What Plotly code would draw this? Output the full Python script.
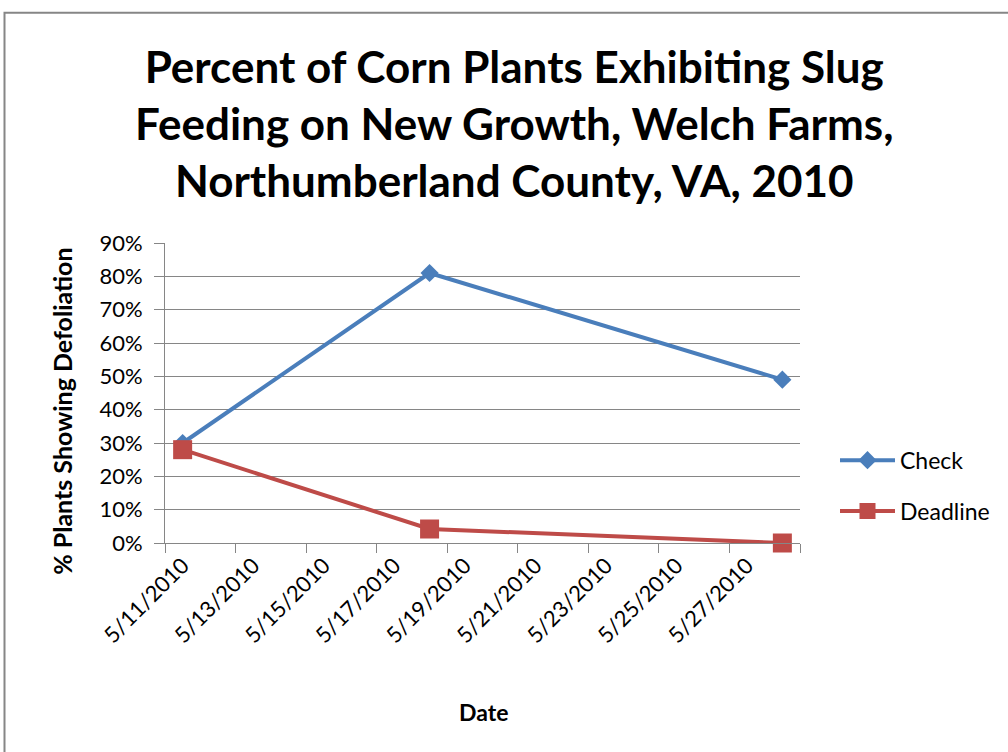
import plotly.graph_objects as go

dates = ["2010-05-11", "2010-05-18", "2010-05-28"]
check = [0.30, 0.81, 0.49]
deadline = [0.28, 0.042, 0.0]

label_dates = ["2010-05-11", "2010-05-13", "2010-05-15", "2010-05-17", "2010-05-19",
               "2010-05-21", "2010-05-23", "2010-05-25", "2010-05-27"]
label_text = ["5/11/2010", "5/13/2010", "5/15/2010", "5/17/2010", "5/19/2010",
              "5/21/2010", "5/23/2010", "5/25/2010", "5/27/2010"]
boundary_ticks = ["2010-05-10 12:00", "2010-05-12 12:00", "2010-05-14 12:00", "2010-05-16 12:00",
                  "2010-05-18 12:00", "2010-05-20 12:00", "2010-05-22 12:00", "2010-05-24 12:00",
                  "2010-05-26 12:00", "2010-05-28 12:00"]
y_ticks = [0, 0.1, 0.2, 0.3, 0.4, 0.5, 0.6, 0.7, 0.8, 0.9]

W, H = 1008, 752
L, R, T, B = 165, 800, 243, 543.3
FONT = "Lato"
GRAY = "#868686"

fig = go.Figure()
fig.add_trace(go.Scatter(x=dates, y=check, name="Check", mode="lines+markers",
                         line=dict(color="#4A7EBB", width=4),
                         marker=dict(symbol="diamond", size=14, color="#4A7EBB"),
                         legendgroup="a", cliponaxis=False))
fig.add_trace(go.Scatter(x=dates, y=deadline, name="Deadline", mode="lines+markers",
                         line=dict(color="#BE4B48", width=4),
                         marker=dict(symbol="square", size=19, color="#BE4B48"),
                         legendgroup="b", cliponaxis=False))

def px_x(p):
    return (p - L) / (R - L)

def px_y(p):
    return (B - p) / (B - T)

fig.update_layout(
    width=W, height=H,
    margin=dict(l=L, r=W - R, t=T, b=H - B, autoexpand=False),
    paper_bgcolor="white", plot_bgcolor="white",
    font=dict(family=FONT, color="#000000", size=22),
    showlegend=True,
    legend=dict(x=px_x(835), xanchor="left", y=px_y(486), yanchor="middle",
                font=dict(family=FONT, size=23), traceorder="grouped", tracegroupgap=18,
                itemwidth=55, bgcolor="rgba(0,0,0,0)"),
    xaxis=dict(type="date", range=["2010-05-10 12:00", "2010-05-28 12:00"],
               tickvals=label_dates, ticktext=label_text, tickangle=-45,
               ticks="", showgrid=False, showline=True, linecolor=GRAY, linewidth=1,
               tickfont=dict(family=FONT, size=22),
               minor=dict(tickvals=boundary_ticks, ticks="outside", ticklen=9,
                          tickcolor=GRAY, tickwidth=1, showgrid=False),
               zeroline=False),
    yaxis=dict(range=[0, 0.9], tickvals=y_ticks, tickformat=".0%",
               ticks="outside", ticklen=10, tickcolor=GRAY, tickwidth=1,
               ticklabelstandoff=7,
               showgrid=True, gridcolor=GRAY, gridwidth=1,
               showline=True, linecolor=GRAY, linewidth=1, zeroline=False,
               tickfont=dict(family=FONT, size=22)),
    annotations=[
        dict(text="Percent of Corn Plants Exhibiting Slug<br>Feeding on New Growth, Welch Farms,<br>Northumberland County, VA, 2010",
             xref="paper", yref="paper", x=px_x(514), y=px_y(123),
             xanchor="center", yanchor="middle", showarrow=False, align="center",
             font=dict(family=FONT, size=44, color="#000000", weight="bold")),
        dict(text="% Plants Showing Defoliation", textangle=-90, xref="paper", yref="paper",
             x=px_x(62), y=px_y(411), xanchor="center", yanchor="middle", showarrow=False,
             font=dict(family=FONT, size=25, weight="bold")),
        dict(text="Date", xref="paper", yref="paper", x=px_x(483), y=px_y(712),
             xanchor="center", yanchor="middle", showarrow=False,
             font=dict(family=FONT, size=23, weight="bold")),
    ],
    shapes=[dict(type="rect", xref="paper", yref="paper",
                 x0=px_x(4.5), x1=px_x(1030), y0=px_y(780), y1=px_y(12.5),
                 line=dict(color=GRAY, width=2), fillcolor="rgba(0,0,0,0)", layer="below")],
)

fig.write_html("out.html")
